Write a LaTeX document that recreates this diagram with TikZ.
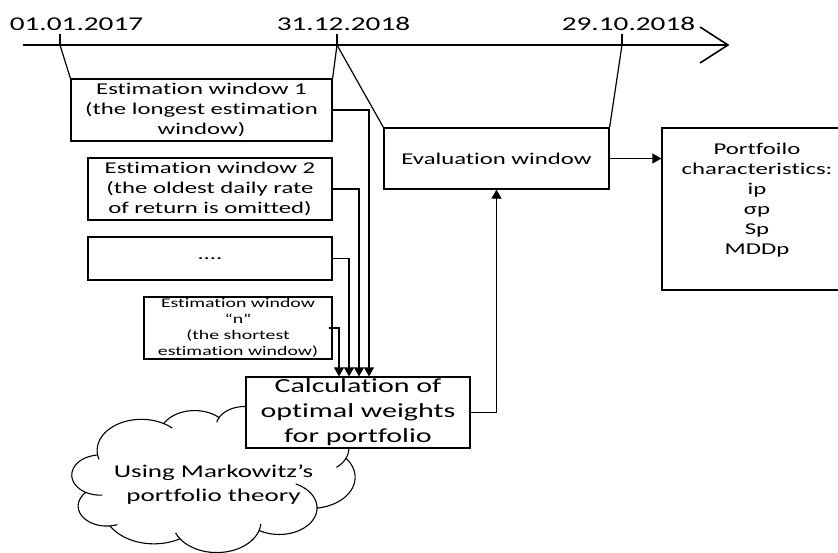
\documentclass[tikz,border=0pt]{standalone}
\usepackage{fontspec}
\setmainfont{Carlito}[FakeStretch=1.5,Ligatures=NoCommon]
\usetikzlibrary{arrows.meta}
\tikzset{
  box/.style={draw,line width=1.2pt,fill=white,align=center,inner sep=0pt},
  conn/.style={line width=1.2pt},
  arr/.style={line width=1.2pt,-{Triangle[width=10pt,length=9pt]}},
  datelbl/.style={anchor=base,inner sep=0pt,font=\fontsize{19.5}{23}\selectfont},
  mid/.style={font=\fontsize{16.5}{20}\selectfont},
  cloudline/.style={line width=1.1pt,line join=round},
  cp/.style={samples=28,variable=\t,smooth},
}
\begin{document}
\begin{tikzpicture}[x=1pt,y=-1pt]
\useasboundingbox (0,0) rectangle (838,552);
\clip (0,0) rectangle (838,552);
% timeline
\coordinate (tl0) at (23,45);
\coordinate (tlend) at (728,45);
\coordinate (bu) at (700,27);
\coordinate (bl) at (700,63);
\coordinate (t1) at (60,45);
\coordinate (t1u) at (60,34);
\coordinate (t2) at (337,45);
\coordinate (t2u) at (337,34);
\coordinate (t3) at (622,45);
\coordinate (t3u) at (622,34);
\draw[line width=1.6pt] (tl0) -- (tlend);
\draw[line width=1.6pt,line join=miter] (bu) -- (tlend) -- (bl);
\draw[line width=1.6pt] (t1u) -- (t1);
\draw[line width=1.6pt] (t2u) -- (t2);
\draw[line width=1.6pt] (t3u) -- (t3);
\node[datelbl] (d1) at (76.5,30) {01.01.2017};
\node[datelbl] (d2) at (343.5,30) {31.12.2018};
\node[datelbl] (d3) at (628.5,30) {29.10.2018};

% cloud (Office-style), in a 432 x 432 frame (y downwards)
\begin{scope}[shift={(72,406)},x=1pt,y=1pt,xscale=0.6551,yscale=-0.3380,cloudline]
\draw
  plot[cp,domain=-187.74:-59.64] ({105.91+67.53*cos(\t)},{131.32+91.90*sin(\t)})
  -- plot[cp,domain=-152.02:-45.44] ({187.15+53.33*cos(\t)},{86.12+72.67*sin(\t)})
  -- plot[cp,domain=-153.48:-37.32] ({263.63+43.65*cos(\t)},{60.88+59.45*sin(\t)})
  -- plot[cp,domain=-139.71:-10.22] ({335.39+48.57*cos(\t)},{67.48+65.95*sin(\t)})
  -- plot[cp,domain=-74.77:23.21] ({369.18+53.33*cos(\t)},{125.96+72.73*sin(\t)})
  -- plot[cp,domain=-37.54:81.86] ({364.47+67.75*cos(\t)},{210.80+92.20*sin(\t)})
  -- plot[cp,domain=0.46:121.97] ({316.21+57.85*cos(\t)},{301.44+78.67*sin(\t)})
  -- plot[cp,domain=16.84:146.23] ({220.96+67.52*cos(\t)},{341.48+92.15*sin(\t)})
  -- plot[cp,domain=58.98:150.18] ({125.05+77.20*cos(\t)},{302.36+105.43*sin(\t)})
  -- plot[cp,domain=83.31:223.10] ({52.99+43.60*cos(\t)},{296.01+59.18*sin(\t)})
  -- plot[cp,domain=120.35:264.11] ({43.11+43.45*cos(\t)},{204.27+59.45*sin(\t)})
  -- cycle;
% inner hint arcs
\draw plot[cp,samples=10,domain=85.55:120.35] ({43.11+43.45*cos(\t)},{204.27+59.45*sin(\t)});
\draw plot[cp,samples=8,domain=68.23:83.31] ({52.99+43.60*cos(\t)},{296.01+59.18*sin(\t)});
\draw plot[cp,samples=8,domain=146.23:158.47] ({220.96+67.52*cos(\t)},{341.48+92.15*sin(\t)});
\draw plot[cp,samples=8,domain=4.74:16.84] ({220.96+67.52*cos(\t)},{341.48+92.15*sin(\t)});
\draw plot[cp,samples=14,domain=-64.03:0.46] ({316.21+57.85*cos(\t)},{301.44+78.67*sin(\t)});
\draw plot[cp,samples=10,domain=23.21:49.64] ({369.18+53.33*cos(\t)},{125.96+72.73*sin(\t)});
\draw plot[cp,samples=8,domain=-10.22:0.82] ({335.39+48.57*cos(\t)},{67.48+65.95*sin(\t)});
\draw plot[cp,samples=8,domain=-156.30:-139.71] ({335.39+48.57*cos(\t)},{67.48+65.95*sin(\t)});
\draw plot[cp,samples=8,domain=-167.72:-153.48] ({263.63+43.65*cos(\t)},{60.88+59.45*sin(\t)});
\draw plot[cp,samples=8,domain=-59.64:-45.73] ({105.91+67.53*cos(\t)},{131.32+91.90*sin(\t)});
\draw plot[cp,samples=8,domain=163.19:172.26] ({105.91+67.53*cos(\t)},{131.32+91.90*sin(\t)});
\end{scope}
\node[inner sep=0pt,font=\fontsize{18}{24}\selectfont,align=center] (cloudtxt) at (213.5,485)
  {Using Markowitz’s\\portfolio theory};

% boxes
\node[box,mid,minimum width=261pt,minimum height=62pt] (box1) at (201.5,110)
  {Estimation window 1\\(the longest estimation\\window)};
\node[box,mid,minimum width=244pt,minimum height=62pt] (box2) at (210,189)
  {Estimation window 2\\(the oldest daily rate\\of return is omitted)};
\node[box,mid,minimum width=244pt,minimum height=43pt] (box3) at (210,258.5)
  {....};
\node[box,font=\fontsize{13.2}{16}\selectfont,minimum width=188pt,minimum height=62pt] (boxn) at (238,328)
  {Estimation window\\“n”\\(the shortest\\estimation window)};
\node[box,font=\fontsize{20}{25}\selectfont,minimum width=224pt,minimum height=71pt] (calc) at (358,412.5)
  {Calculation of\\optimal weights\\for portfolio};
\node[box,mid,minimum width=225pt,minimum height=61pt] (eval) at (496.5,158.5)
  {Evaluation window};
\node[box,mid,minimum width=190pt,minimum height=162pt] (port) at (757,209)
  {\raisebox{4pt}[0pt][0pt]{\begin{tabular}{@{}c@{}}Portfoilo\\characteristics:\\ip\\σp\\Sp\\MDDp\end{tabular}}};

% window edges
\draw[conn] (t1) -- (box1.north west);
\draw[conn] (t2) -- (box1.north east);
\draw[conn] (t2) -- (eval.north west);
\draw[conn] (t3) -- (eval.north east);

% connectors
\draw[arr] (box1.east) -| ([xshift=11pt]calc.north);
\draw[arr] (box2.east) -| ([xshift=1pt]calc.north);
\draw[arr] (box3.east) -| ([xshift=-9pt]calc.north);
\draw[arr] ([xshift=-4pt]boxn.east) -| ([xshift=-19pt]calc.north);
\draw[arr] (calc.east) -| (eval.south);
\draw[arr] (eval.east) -- (eval.east -| port.west);
\end{tikzpicture}
\end{document}
